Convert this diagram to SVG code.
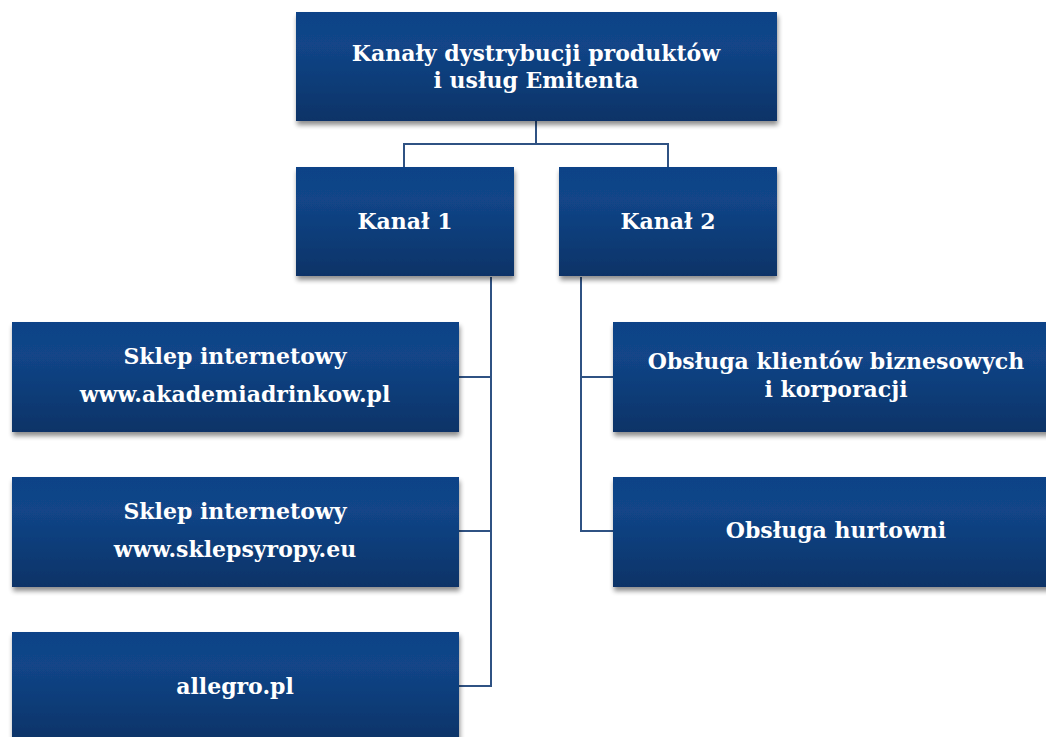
<svg xmlns="http://www.w3.org/2000/svg" width="1046" height="737" viewBox="0 0 1046 737">
<defs>
<linearGradient id="g" x1="0" y1="0" x2="0" y2="1">
<stop offset="0" stop-color="#0F4387"/>
<stop offset="0.3" stop-color="#124588"/>
<stop offset="1" stop-color="#0C3367"/>
</linearGradient>
<filter id="sh" x="-5%" y="-5%" width="110%" height="125%">
<feGaussianBlur in="SourceAlpha" stdDeviation="2.5"/>
<feOffset dx="1" dy="4" result="b"/>
<feComponentTransfer><feFuncA type="linear" slope="0.45"/></feComponentTransfer>
<feMerge><feMergeNode/><feMergeNode in="SourceGraphic"/></feMerge>
</filter>
</defs>
<style>
.box{fill:url(#g);filter:url(#sh)}
.t{font-family:"DejaVu Serif","Liberation Serif",serif;font-weight:bold;font-size:22px;fill:#FFFFFF;text-anchor:middle}
.c{fill:none;stroke:#2F5283;stroke-width:2}
</style>
<rect width="1046" height="737" fill="#FFFFFF"/>
<g id="connectors">
<path class="c" d="M536 121V144M404 167V144H668V167"/>
<path class="c" d="M491 277V686H459M459 377H491M459 531H491"/>
<path class="c" d="M581 277V531H613M581 377H613"/>
</g>
<g id="root"><rect class="box" x="296" y="12" width="481" height="109"/>
<text class="t" x="536" y="61">Kanały dystrybucji produktów</text><text class="t" x="536" y="88">i usług Emitenta</text></g>
<g id="kanal1"><rect class="box" x="296" y="167" width="218" height="109"/>
<text class="t" x="405" y="229">Kanał 1</text></g>
<g id="kanal2"><rect class="box" x="559" y="167" width="218" height="109"/>
<text class="t" x="668" y="229">Kanał 2</text></g>
<g id="sklep1"><rect class="box" x="12" y="322" width="447" height="110"/>
<text class="t" x="235" y="364">Sklep internetowy</text><text class="t" x="235" y="402">www.akademiadrinkow.pl</text></g>
<g id="sklep2"><rect class="box" x="12" y="477" width="447" height="110"/>
<text class="t" x="235" y="519">Sklep internetowy</text><text class="t" x="235" y="557">www.sklepsyropy.eu</text></g>
<g id="allegro"><rect class="box" x="12" y="632" width="447" height="110"/>
<text class="t" x="235" y="694">allegro.pl</text></g>
<g id="biznes"><rect class="box" x="613" y="322" width="440" height="110"/>
<text class="t" x="836" y="369">Obsługa klientów biznesowych</text><text class="t" x="836" y="397">i korporacji</text></g>
<g id="hurtownie"><rect class="box" x="613" y="477" width="440" height="110"/>
<text class="t" x="836" y="538">Obsługa hurtowni</text></g>
</svg>
